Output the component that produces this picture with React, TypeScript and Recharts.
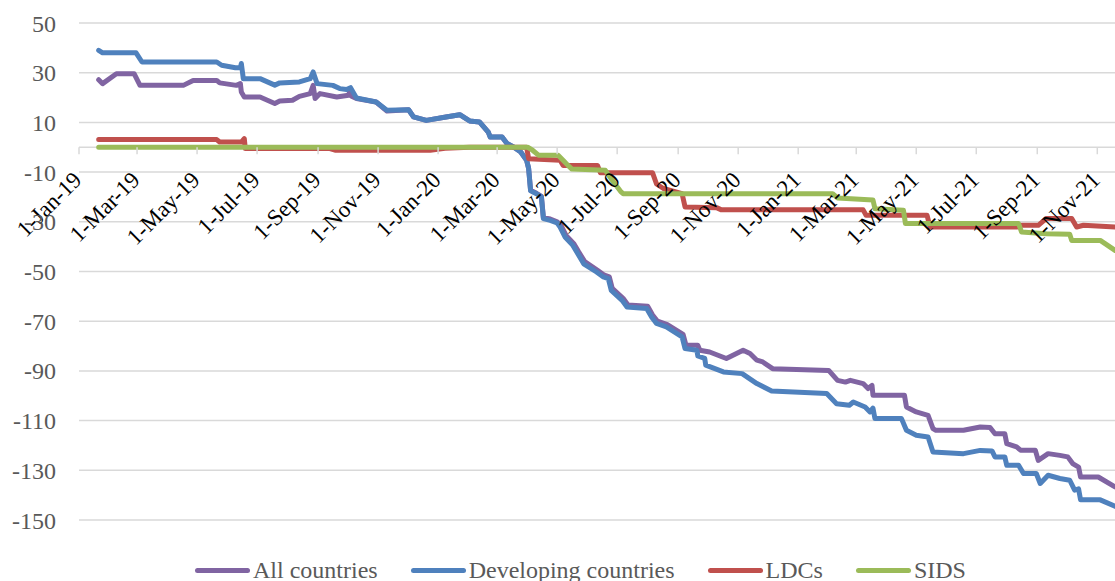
import React from 'react';
import { LineChart, Line, XAxis, YAxis, CartesianGrid, ReferenceLine, ReferenceDot } from 'recharts';

// values, [date, value] at each visible break of the line
const allCountries: [string, number][] = [
  ['2019-01-21', 27.2], ['2019-01-25', 25.6], ['2019-02-08', 29.6], ['2019-02-26', 29.6], ['2019-03-04', 24.9],
  ['2019-04-17', 24.9], ['2019-04-27', 26.9], ['2019-05-21', 26.9], ['2019-05-24', 25.9], ['2019-06-10', 24.9],
  ['2019-06-14', 25.6], ['2019-06-15', 22.2], ['2019-06-18', 20.2], ['2019-07-04', 20.2], ['2019-07-19', 17.6],
  ['2019-07-24', 18.6], ['2019-08-06', 18.9], ['2019-08-13', 20.5], ['2019-08-24', 21.6], ['2019-08-27', 24.9],
  ['2019-08-29', 19.6], ['2019-09-03', 21.6], ['2019-09-20', 20.2], ['2019-10-02', 20.9], ['2019-10-04', 23.6],
  ['2019-10-05', 20.5], ['2019-10-10', 19.6], ['2019-10-30', 18.2], ['2019-11-10', 14.6], ['2019-12-02', 15.1],
  ['2019-12-07', 12.2], ['2019-12-20', 10.8], ['2020-01-09', 12.2], ['2020-01-23', 13.1], ['2020-02-02', 10.6],
  ['2020-02-12', 10.2], ['2020-02-21', 6.1], ['2020-02-23', 4.1], ['2020-03-06', 4.1], ['2020-03-11', 1.5],
  ['2020-03-18', 0], ['2020-03-25', -1.9], ['2020-03-31', -5.3], ['2020-04-02', -8.5], ['2020-04-04', -17.3],
  ['2020-04-10', -18.5], ['2020-04-15', -19.8], ['2020-04-17', -28.3], ['2020-04-24', -28.9], ['2020-05-01', -30],
  ['2020-05-05', -31.5], ['2020-05-10', -35.5], ['2020-05-18', -38.8], ['2020-05-23', -42.2], ['2020-05-29', -46],
  ['2020-06-11', -49.5], ['2020-06-18', -51.5], ['2020-06-23', -52.2], ['2020-06-26', -56.8], ['2020-07-07', -60.8],
  ['2020-07-12', -63.5], ['2020-08-01', -64], ['2020-08-06', -67.5], ['2020-08-11', -70], ['2020-08-21', -71.4],
  ['2020-09-06', -75.3], ['2020-09-09', -79.7], ['2020-09-21', -79.7], ['2020-09-23', -81.7], ['2020-10-03', -82.4],
  ['2020-10-20', -85], ['2020-11-06', -81.7], ['2020-11-13', -83], ['2020-11-20', -85.7], ['2020-11-26', -86.4],
  ['2020-12-06', -89.1], ['2021-02-01', -89.8], ['2021-02-10', -93.8], ['2021-02-18', -94.5], ['2021-02-23', -93.8],
  ['2021-03-08', -95.1], ['2021-03-13', -97.1], ['2021-03-17', -95.8], ['2021-03-18', -99.8], ['2021-04-19', -99.8],
  ['2021-04-21', -104.5], ['2021-05-01', -106.5], ['2021-05-13', -107.9], ['2021-05-18', -113.2], ['2021-05-21', -113.9],
  ['2021-06-18', -113.9], ['2021-07-05', -112.6], ['2021-07-15', -112.8], ['2021-07-20', -115.3], ['2021-07-30', -115.3],
  ['2021-08-01', -119.3], ['2021-08-11', -120.6], ['2021-08-15', -121.9], ['2021-08-30', -121.9], ['2021-09-02', -126],
  ['2021-09-12', -123.3], ['2021-09-24', -124], ['2021-10-02', -124.6], ['2021-10-07', -127.3], ['2021-10-13', -128.7],
  ['2021-10-15', -132.7], ['2021-11-02', -132.7], ['2021-11-19', -136.7],
];

const developing: [string, number][] = [
  ['2019-01-21', 39], ['2019-01-25', 38], ['2019-02-28', 38], ['2019-03-06', 34.3], ['2019-05-21', 34.3],
  ['2019-05-26', 33], ['2019-06-09', 32], ['2019-06-14', 32], ['2019-06-15', 33.7], ['2019-06-17', 27.6],
  ['2019-07-04', 27.6], ['2019-07-19', 25], ['2019-07-24', 25.9], ['2019-08-13', 26.3], ['2019-08-24', 27.6],
  ['2019-08-27', 30.3], ['2019-08-31', 25.6], ['2019-09-16', 24.9], ['2019-09-23', 23.6], ['2019-09-30', 23.2],
  ['2019-10-04', 24], ['2019-10-10', 19.8], ['2019-10-30', 18.2], ['2019-11-10', 14.9], ['2019-12-02', 15.1],
  ['2019-12-07', 12.2], ['2019-12-20', 10.8], ['2020-01-09', 12.2], ['2020-01-23', 13.1], ['2020-02-02', 10.6],
  ['2020-02-12', 10.2], ['2020-02-21', 6.1], ['2020-02-23', 4.1], ['2020-03-06', 4.1], ['2020-03-11', 1.5],
  ['2020-03-18', 0], ['2020-03-25', -1.9], ['2020-03-31', -5.3], ['2020-04-02', -8.5], ['2020-04-04', -17.5],
  ['2020-04-10', -18.7], ['2020-04-15', -20], ['2020-04-17', -28.7], ['2020-04-24', -29.4], ['2020-05-01', -30.5],
  ['2020-05-04', -32.1], ['2020-05-09', -36.1], ['2020-05-17', -39.5], ['2020-05-22', -42.9], ['2020-05-28', -46.9],
  ['2020-06-10', -50.2], ['2020-06-17', -52.2], ['2020-06-22', -52.9], ['2020-06-25', -57.6], ['2020-07-06', -61.6],
  ['2020-07-11', -64.3], ['2020-07-31', -64.9], ['2020-08-05', -68.3], ['2020-08-10', -70.9], ['2020-08-20', -72.3],
  ['2020-09-05', -76.3], ['2020-09-08', -81], ['2020-09-20', -81.7], ['2020-09-21', -84], ['2020-09-28', -85],
  ['2020-09-29', -87.7], ['2020-10-17', -90.4], ['2020-11-05', -91.1], ['2020-11-20', -95.1], ['2020-12-05', -98.1],
  ['2021-01-30', -99.1], ['2021-02-09', -103.2], ['2021-02-22', -103.8], ['2021-02-26', -102.5], ['2021-03-10', -104.5],
  ['2021-03-15', -106.5], ['2021-03-18', -105], ['2021-03-20', -109.2], ['2021-04-16', -109.2], ['2021-04-21', -113.9],
  ['2021-05-01', -115.9], ['2021-05-13', -116.6], ['2021-05-18', -122.6], ['2021-06-18', -123.3], ['2021-07-05', -122],
  ['2021-07-17', -122.2], ['2021-07-20', -124.6], ['2021-07-30', -124.6], ['2021-08-01', -128], ['2021-08-13', -128],
  ['2021-08-18', -131.3], ['2021-08-31', -131.3], ['2021-09-04', -135.3], ['2021-09-12', -132], ['2021-09-24', -133.3],
  ['2021-10-04', -134], ['2021-10-09', -138], ['2021-10-13', -137.5], ['2021-10-15', -141.9], ['2021-11-04', -141.9],
  ['2021-11-19', -144.5],
];

const ldcs: [string, number][] = [
  ['2019-01-21', 3.1], ['2019-05-21', 3.1], ['2019-05-24', 2.1], ['2019-06-15', 2.1], ['2019-06-18', 3.5],
  ['2019-06-19', -0.5], ['2019-09-13', -0.5], ['2019-09-19', -1.2], ['2019-12-24', -1.2], ['2020-01-08', -0.4],
  ['2020-02-02', 0], ['2020-03-31', 0], ['2020-04-02', -4.6], ['2020-05-04', -5.2], ['2020-05-07', -7.3],
  ['2020-06-11', -7.3], ['2020-06-14', -10.3], ['2020-08-06', -10.3], ['2020-08-10', -14.8], ['2020-08-17', -16.6],
  ['2020-09-05', -18.7], ['2020-09-08', -24], ['2020-10-10', -24.3], ['2020-10-15', -25.2], ['2021-03-08', -25.2],
  ['2021-03-11', -27.4], ['2021-05-12', -27.4], ['2021-05-15', -32.1], ['2021-08-11', -32.1], ['2021-08-16', -31.4],
  ['2021-09-02', -31.4], ['2021-09-10', -28.7], ['2021-10-06', -28.7], ['2021-10-11', -32.1], ['2021-10-18', -31.4],
  ['2021-11-19', -32.1],
];

const sids: [string, number][] = [
  ['2019-01-21', 0], ['2020-04-01', 0], ['2020-04-06', -1.2], ['2020-04-12', -3.2], ['2020-05-02', -3.2],
  ['2020-05-07', -5.2], ['2020-05-12', -7.3], ['2020-05-16', -8.8], ['2020-06-19', -9.3], ['2020-06-26', -13.3],
  ['2020-07-05', -18], ['2020-07-07', -18.7], ['2021-02-05', -18.7], ['2021-02-10', -20.4], ['2021-03-18', -21.2],
  ['2021-03-20', -24.7], ['2021-04-18', -25.4], ['2021-04-20', -30.7], ['2021-08-13', -30.7], ['2021-08-16', -34.1],
  ['2021-09-10', -34.8], ['2021-10-04', -35], ['2021-10-06', -37.5], ['2021-11-04', -37.5], ['2021-11-19', -41.5],
];

const tickDates = [
  '2019-01-01', '2019-03-01', '2019-05-01', '2019-07-01', '2019-09-01', '2019-11-01',
  '2020-01-01', '2020-03-01', '2020-05-01', '2020-07-01', '2020-09-01', '2020-11-01',
  '2021-01-01', '2021-03-01', '2021-05-01', '2021-07-01', '2021-09-01', '2021-11-01',
];
const yTicks = [-150, -130, -110, -90, -70, -50, -30, -10, 10, 30, 50];
const monthNames = ['Jan', 'Feb', 'Mar', 'Apr', 'May', 'Jun', 'Jul', 'Aug', 'Sep', 'Oct', 'Nov', 'Dec'];

const axisStart = '2019-01-01';
const axisEnd = '2021-11-19';

const series = [
  { name: 'All countries', color: '#8064A2', values: allCountries },
  { name: 'Developing countries', color: '#4F81BD', values: developing },
  { name: 'LDCs', color: '#C0504D', values: ldcs },
  { name: 'SIDS', color: '#9BBB59', values: sids },
];

const FONT = '"Liberation Serif", "DejaVu Serif", serif';

const ts = (s: string) => Date.parse(s + 'T00:00:00Z');

const fmtTick = (s: string) => {
  const d = new Date(ts(s));
  return `${d.getUTCDate()}-${monthNames[d.getUTCMonth()]}-${String(d.getUTCFullYear()).slice(2)}`;
};

const toPoints = (vals: [string, number][]) => vals.map(([d, v]) => ({ x: ts(d), y: v }));

// tick mark + slanted date label hung on the zero line
const DateTick = ({ cx, cy, text }: { cx: number; cy: number; text: string }) => {
  const ax = cx + 4;
  const ay = cy + 34;
  return (
    <g>
      <line x1={cx} y1={cy} x2={cx} y2={cy + 7} stroke="#d9d9d9" strokeWidth={1.5} />
      <text
        x={ax}
        y={ay}
        transform={`rotate(-45 ${ax} ${ay})`}
        textAnchor="end"
        fontSize={23}
        fontFamily={FONT}
        fill="#000"
      >
        {text}
      </text>
    </g>
  );
};

const App: React.FC = () => {
  return (
    <div style={{ position: 'absolute', left: 0, top: 0, width: 1115, height: 581, background: '#fff', overflow: 'hidden' }}>
      <LineChart width={1115} height={581} margin={{ top: 23, right: 0, bottom: 61, left: 0 }} style={{ fontFamily: FONT }}>
        <CartesianGrid horizontal vertical={false} stroke="#d9d9d9" strokeWidth={1.5} />
        <XAxis
          type="number"
          dataKey="x"
          domain={[ts(axisStart), ts(axisEnd)]}
          allowDataOverflow
          hide
        />
        <YAxis
          type="number"
          domain={[-150, 50]}
          ticks={yTicks}
          width={79}
          axisLine={false}
          tickLine={false}
          tickSize={0}
          tickMargin={23}
          tick={{ fontSize: 24, fill: '#595959', fontFamily: FONT }}
        />
        <ReferenceLine y={0} stroke="#d9d9d9" strokeWidth={1.5} />
        {tickDates.map((d) => (
          <ReferenceDot
            key={d}
            x={ts(d)}
            y={0}
            r={0}
            ifOverflow="visible"
            shape={(p: any) => <DateTick cx={p.cx} cy={p.cy} text={fmtTick(d)} />}
          />
        ))}
        {series.map((s) => (
          <Line
            key={s.name}
            data={toPoints(s.values)}
            dataKey="y"
            name={s.name}
            type="linear"
            stroke={s.color}
            strokeWidth={5}
            strokeLinejoin="round"
            strokeLinecap="round"
            dot={false}
            activeDot={false}
            isAnimationActive={false}
          />
        ))}
      </LineChart>
      <div
        style={{
          position: 'absolute',
          left: 195,
          top: 558,
          display: 'flex',
          alignItems: 'center',
          fontFamily: FONT,
          fontSize: 24,
          lineHeight: '24px',
          color: '#595959',
          whiteSpace: 'nowrap',
        }}
      >
        {series.map((s) => (
          <div key={s.name} style={{ display: 'flex', alignItems: 'center', marginRight: 33 }}>
            <span style={{ display: 'inline-block', width: 55, height: 5, borderRadius: 3, background: s.color, marginRight: 3 }} />
            <span>{s.name}</span>
          </div>
        ))}
      </div>
    </div>
  );
};

export default App;
